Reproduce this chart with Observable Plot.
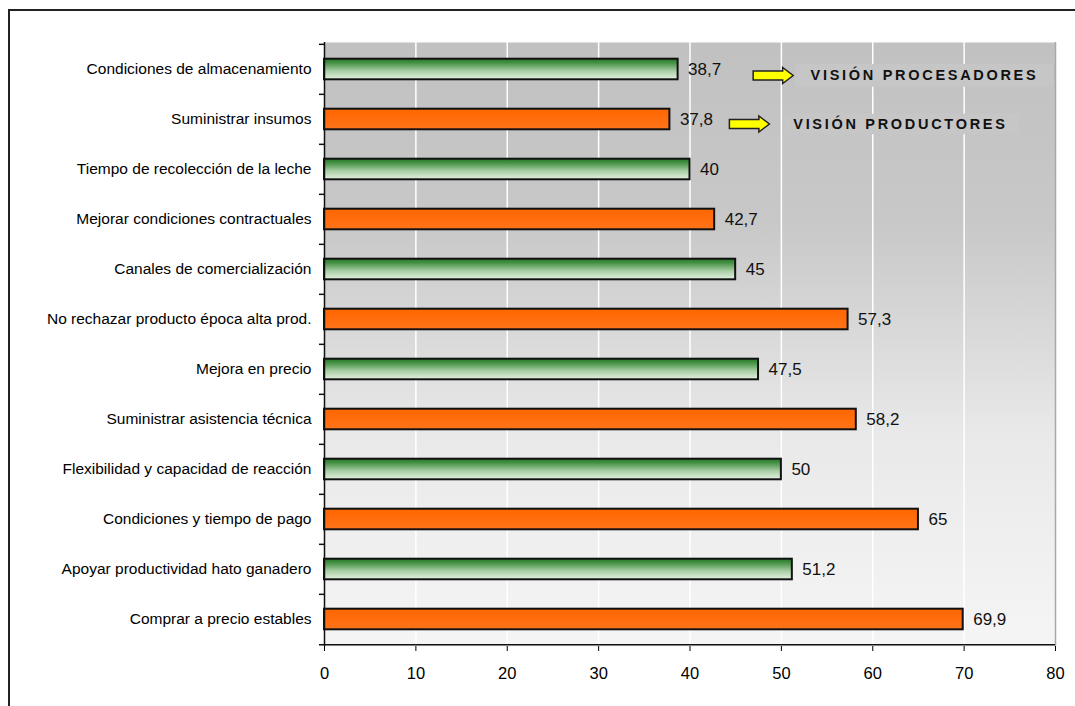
<!DOCTYPE html>
<html>
<head>
<meta charset="utf-8">
<script src="https://cdn.jsdelivr.net/npm/d3@7"></script>
<script src="https://cdn.jsdelivr.net/npm/@observablehq/plot@0.6"></script>
<style>
  html, body { margin: 0; padding: 0; background: #fff; }
  #wrap { position: relative; width: 1075px; height: 706px; overflow: hidden; }
  #border { position: absolute; left: 8px; top: 9px; width: 1200px; height: 900px;
            border-left: 2px solid #222; border-top: 2px solid #222; }
  #chart { position: absolute; left: 0; top: 0; }
  g[font-weight="bold"] text { letter-spacing: 2.7px; }
</style>
</head>
<body>
<div id="wrap"><div id="border"></div><div id="chart"></div></div>
<script>
const categories = [
  "Condiciones de almacenamiento",
  "Suministrar insumos",
  "Tiempo de recolección de la leche",
  "Mejorar condiciones contractuales",
  "Canales de comercialización",
  "No rechazar producto época alta prod.",
  "Mejora en precio",
  "Suministrar asistencia técnica",
  "Flexibilidad y capacidad de reacción",
  "Condiciones y tiempo de pago",
  "Apoyar productividad hato ganadero",
  "Comprar a precio estables"
];
const values = [38.7, 37.8, 40, 42.7, 45, 57.3, 47.5, 58.2, 50, 65, 51.2, 69.9];
const groups = ["proc", "prod", "proc", "prod", "proc", "prod", "proc", "prod", "proc", "prod", "proc", "prod"];
const xTicks = [0, 10, 20, 30, 40, 50, 60, 70, 80];
const annotationLabels = ["VISIÓN PROCESADORES", "VISIÓN PRODUCTORES"];
const annotationCategories = [categories[0], categories[1]];

const data = categories.map((c, i) => ({cat: c, value: values[i], group: groups[i]}));
const annots = annotationLabels.map((l, i) => ({label: l, cat: annotationCategories[i]}));

const W = 1075, H = 706, mT = 42, mB = 60, mL = 324, mR = 20;
const bw = (H - mT - mB) / categories.length;

const arrowSymbol = {
  draw(ctx) {
    ctx.moveTo(-20, -4.5);
    ctx.lineTo(9.5, -4.5);
    ctx.lineTo(9.5, -8);
    ctx.lineTo(20, 0);
    ctx.lineTo(9.5, 8);
    ctx.lineTo(9.5, 4.5);
    ctx.lineTo(-20, 4.5);
    ctx.closePath();
  }
};

const defsMark = () => {
  const defs = document.createElementNS("http://www.w3.org/2000/svg", "defs");
  defs.innerHTML = `
    <linearGradient id="bgGrad" x1="0" y1="0" x2="0" y2="1">
      <stop offset="0" stop-color="#c1c1c1"/>
      <stop offset="0.3" stop-color="#c8c8c8"/>
      <stop offset="0.65" stop-color="#e9e9e9"/>
      <stop offset="1" stop-color="#f5f5f5"/>
    </linearGradient>
    <linearGradient id="greenGrad" x1="0" y1="0" x2="0" y2="1">
      <stop offset="0" stop-color="#267728"/>
      <stop offset="0.2" stop-color="#459145"/>
      <stop offset="0.6" stop-color="#a9cfa5"/>
      <stop offset="1" stop-color="#e4f1e0"/>
    </linearGradient>
    <linearGradient id="orangeGrad" x1="0" y1="0" x2="0" y2="1">
      <stop offset="0" stop-color="#ff6600"/>
      <stop offset="1" stop-color="#ff741a"/>
    </linearGradient>`;
  return defs;
};

const fmt = v => String(v).replace(".", ",");

const chart = Plot.plot({
  width: W, height: H,
  marginTop: mT, marginBottom: mB, marginLeft: mL, marginRight: mR,
  x: {domain: [0, 80]},
  y: {domain: categories, padding: 0},
  style: {fontFamily: "'Liberation Sans', Arial, sans-serif", background: "transparent", color: "#000"},
  marks: [
    defsMark,
    Plot.frame({fill: "url(#bgGrad)", stroke: null}),
    Plot.ruleX(xTicks.slice(1, -1), {stroke: "#ffffff", strokeWidth: 1.5}),
    Plot.ruleX([80], {stroke: "#a8a8a8", strokeWidth: 1.5}),
    // annotation boxes
    Plot.barX([annots[0]], {y: "cat", x1: 51.55, x2: 79.8, fill: "#c6c6c6", insetTop: 20, insetBottom: 7.3}),
    Plot.barX([annots[1]], {y: "cat", x1: 50.45, x2: 76.06, fill: "#c6c6c6", insetTop: 19.7, insetBottom: 9.7}),
    // bars
    Plot.barX(data.filter(d => d.group === "proc"), {
      y: "cat", x: "value", fill: "url(#greenGrad)", stroke: "#111", strokeWidth: 2,
      insetTop: 14.7, insetBottom: 14.7
    }),
    Plot.barX(data.filter(d => d.group === "prod"), {
      y: "cat", x: "value", fill: "url(#orangeGrad)", stroke: "#111", strokeWidth: 2,
      insetTop: 14.7, insetBottom: 14.7
    }),
    Plot.text(data, {
      y: "cat", x: "value", text: d => fmt(d.value), textAnchor: "start", dx: 10,
      fontSize: 17, fill: "#111"
    }),
    // arrows
    Plot.dot([annots[0]], {y: "cat", x: 49.1, dy: 6, symbol: arrowSymbol, fill: "#ffff00", stroke: "#222", strokeWidth: 1.5}),
    Plot.dot([annots[1]], {y: "cat", x: 46.5, dy: 4.5, symbol: arrowSymbol, fill: "#ffff00", stroke: "#222", strokeWidth: 1.5}),
    Plot.text([annots[0]], {y: "cat", x: 53.2, dy: 6, text: "label", textAnchor: "start", fontWeight: "bold", fontSize: 14.5, fill: "#111"}),
    Plot.text([annots[1]], {y: "cat", x: 51.3, dy: 4.5, text: "label", textAnchor: "start", fontWeight: "bold", fontSize: 14.5, fill: "#111"}),
    // axis lines and ticks
    Plot.ruleX([0], {stroke: "#111", strokeWidth: 1.5}),
    Plot.ruleY([categories[categories.length - 1]], {x1: -0.55, x2: 80, dy: bw / 2, stroke: "#111", strokeWidth: 1.5}),
    Plot.ruleY(categories, {x1: -0.55, x2: 0, dy: -bw / 2, stroke: "#111", strokeWidth: 1.5}),
    Plot.axisX({ticks: xTicks, tickSize: 5, tickPadding: 16, fontSize: 16.5, label: null}),
    Plot.axisY({tickSize: 0, tickPadding: 13, fontSize: 15.5, label: null})
  ]
});
document.getElementById("chart").appendChild(chart);
</script>
</body>
</html>
